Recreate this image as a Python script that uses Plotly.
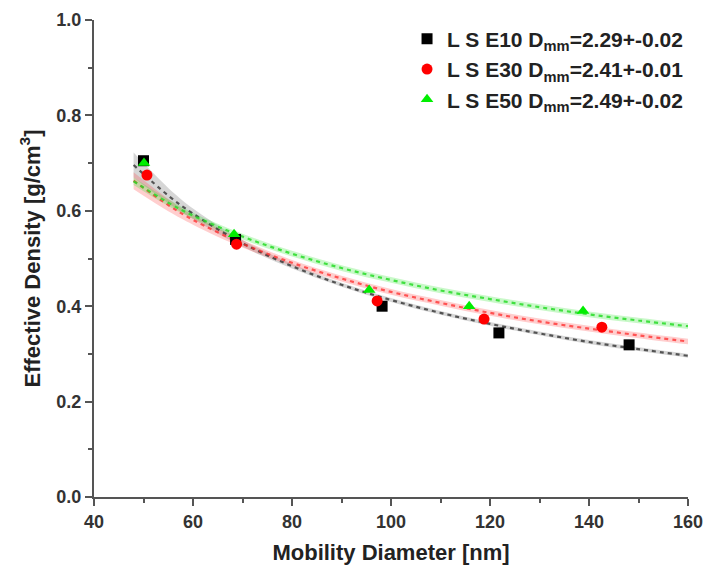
import plotly.graph_objects as go

# ---- data ----
e10_x = [50.0, 68.6, 98.2, 121.8, 148.1]
e10_y = [0.705, 0.540, 0.400, 0.344, 0.319]
e30_x = [50.7, 68.8, 97.2, 118.8, 142.6]
e30_y = [0.675, 0.530, 0.411, 0.373, 0.356]
e50_x = [50.1, 68.3, 95.6, 115.8, 138.8]
e50_y = [0.700, 0.551, 0.434, 0.400, 0.390]

fit_x = [48, 55, 60, 70, 80, 90, 100, 110, 120, 130, 140, 150, 160]
fit_e10 = [0.696, 0.632, 0.594, 0.532, 0.484, 0.445, 0.413, 0.386, 0.363, 0.343, 0.325, 0.310, 0.296]
fit_e30 = [0.663, 0.612, 0.581, 0.531, 0.491, 0.458, 0.430, 0.407, 0.386, 0.368, 0.353, 0.339, 0.326]
fit_e50 = [0.662, 0.617, 0.590, 0.546, 0.510, 0.480, 0.455, 0.433, 0.415, 0.398, 0.383, 0.370, 0.358]
# half-width of the confidence bands
band_e10 = [0.026, 0.016, 0.011, 0.007, 0.005, 0.004, 0.004, 0.004, 0.004, 0.004, 0.004, 0.004, 0.004]
band_e30 = [0.018, 0.013, 0.010, 0.008, 0.006, 0.006, 0.006, 0.006, 0.006, 0.006, 0.006, 0.006, 0.006]
band_e50 = [0.008, 0.007, 0.006, 0.006, 0.006, 0.006, 0.006, 0.006, 0.006, 0.006, 0.006, 0.006, 0.006]

names = ["L S E10 D<sub>mm</sub>=2.29+-0.02",
         "L S E30 D<sub>mm</sub>=2.41+-0.01",
         "L S E50 D<sub>mm</sub>=2.49+-0.02"]

x_ticks = [40, 60, 80, 100, 120, 140, 160]
y_ticks = [0.0, 0.2, 0.4, 0.6, 0.8, 1.0]
y_tick_text = ["0.0", "0.2", "0.4", "0.6", "0.8", "1.0"]

FONT = "Arial, Liberation Sans, sans-serif"

series = [
    (e10_x, e10_y, fit_e10, band_e10, "#000000", "rgba(60,60,60,0.85)", "rgba(120,120,120,0.30)", "square"),
    (e30_x, e30_y, fit_e30, band_e30, "#ff0000", "rgba(255,40,40,0.75)", "rgba(255,80,80,0.28)", "circle"),
    (e50_x, e50_y, fit_e50, band_e50, "#00ee00", "rgba(40,220,40,0.85)", "rgba(60,230,60,0.28)", "triangle-up"),
]

fig = go.Figure()

# bands
for sx, sy, fit, band, mc, lc, bc, sym in series:
    up = [f + b for f, b in zip(fit, band)]
    lo = [f - b for f, b in zip(fit, band)]
    fig.add_trace(go.Scatter(x=fit_x, y=up, mode="lines", line=dict(width=0, shape="spline"),
                             showlegend=False, hoverinfo="skip"))
    fig.add_trace(go.Scatter(x=fit_x, y=lo, mode="lines", line=dict(width=0, shape="spline"),
                             fill="tonexty", fillcolor=bc, showlegend=False, hoverinfo="skip"))

# fit lines
for sx, sy, fit, band, mc, lc, bc, sym in series:
    fig.add_trace(go.Scatter(x=fit_x, y=fit, mode="lines",
                             line=dict(color=lc, width=2.2, dash="4px,4px", shape="spline"),
                             showlegend=False, hoverinfo="skip"))

# points
for (sx, sy, fit, band, mc, lc, bc, sym), nm in zip(series, names):
    fig.add_trace(go.Scatter(x=sx, y=sy, mode="markers", name=nm,
                             marker=dict(color=mc, symbol=sym, size=11, line=dict(width=0))))

axis_common = dict(
    showline=True, linecolor="#555555", linewidth=2, mirror=False,
    ticks="outside", ticklen=7, tickwidth=2, tickcolor="#555555",
    showgrid=False, zeroline=False, automargin=False,
    tickfont=dict(family=FONT, size=18, color="#333333", weight="bold"),
)

fig.update_layout(
    width=705, height=572,
    margin=dict(l=94, r=17, t=20, b=75, autoexpand=False),
    plot_bgcolor="white", paper_bgcolor="white",
    font=dict(family=FONT),
    xaxis=dict(range=[40, 160], tickvals=x_ticks,
               minor=dict(ticks="outside", ticklen=4, tickwidth=2, tickcolor="#555555", dtick=10, tick0=40),
               title=dict(text="Mobility Diameter [nm]", standoff=14,
                          font=dict(family=FONT, size=22, color="#222222", weight="bold")),
               **axis_common),
    yaxis=dict(range=[0, 1], tickvals=y_ticks, ticktext=y_tick_text,
               minor=dict(ticks="outside", ticklen=4, tickwidth=2, tickcolor="#555555", dtick=0.1, tick0=0),
               title=dict(text="Effective Density [g/cm<sup>3</sup>]", standoff=10,
                          font=dict(family=FONT, size=22, color="#222222", weight="bold")),
               **axis_common),
    legend=dict(x=0.527, y=1.003, xanchor="left", yanchor="top",
                traceorder="normal",
                bgcolor="rgba(0,0,0,0)", borderwidth=0, tracegroupgap=0,
                font=dict(family=FONT, size=21, color="#222222", weight="bold"),
                itemwidth=30),
)

fig.write_html("out.html", config={"displayModeBar": False},
               post_script="document.body.style.margin='0';document.body.style.overflow='hidden';")
